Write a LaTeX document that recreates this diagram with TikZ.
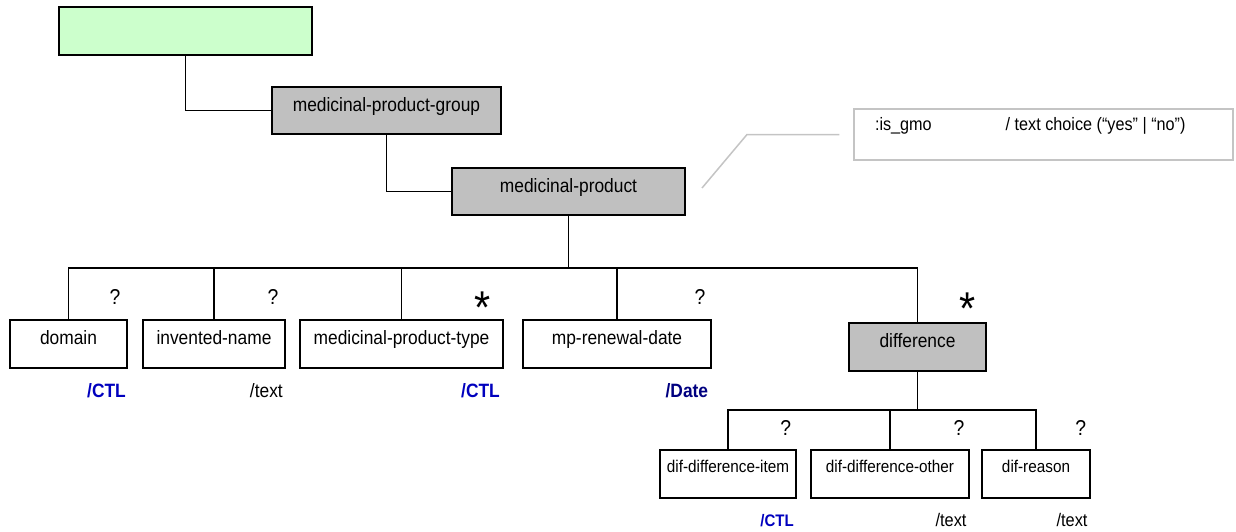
\documentclass[tikz,border=0pt]{standalone}
\usepackage{fontspec}
\setmainfont{Liberation Sans}[FakeStretch=0.9]
\definecolor{boxgray}{RGB}{192,192,192}
\definecolor{greenfill}{RGB}{204,255,204}
\definecolor{ctlblue}{RGB}{0,0,190}
\definecolor{datenavy}{RGB}{0,0,128}
\definecolor{notegray}{RGB}{196,196,196}
\begin{document}
\begin{tikzpicture}[x=1pt,y=-1pt,
  box/.style={draw=black, line width=1.9pt, inner sep=0pt, font=\fontsize{19.3}{22}\selectfont},
  greybox/.style={box, fill=boxgray},
  lvlone/.style={text height=24.3pt, text depth=23.7pt},
  lvltwo/.style={font=\fontsize{17}{20}\selectfont, text height=22.3pt, text depth=25.7pt},
  edge/.style={draw=black, line width=1.8pt},
  card/.style={font=\fontsize{21.5}{23}\selectfont, anchor=base, inner sep=0pt},
  many/.style={font=\fontsize{46}{46}\selectfont, anchor=center, inner sep=0pt, text height=33pt, text depth=-19pt},
  ctl/.style={font=\bfseries\fontsize{19.3}{22}\selectfont, text=ctlblue, anchor=base east, inner sep=0pt},
  typ/.style={font=\fontsize{19.3}{22}\selectfont, anchor=base east, inner sep=0pt},
  ctltwo/.style={font=\bfseries\fontsize{16.7}{19}\selectfont, text=ctlblue, anchor=base east, inner sep=0pt},
  typtwo/.style={font=\fontsize{18.2}{20}\selectfont, anchor=base east, inner sep=0pt},
  callout/.style={draw=notegray, line width=1.5pt}
]
\useasboundingbox (0,0) rectangle (1236,531);

% top level
\node[box, fill=greenfill, minimum width=253pt, minimum height=48pt] (root) at (185.5,31) {};
\node[greybox, minimum width=229pt, text height=24.5pt, text depth=22.5pt] (mpg) at (386.5,110.5) {medicinal-product-group};
\node[greybox, minimum width=233pt, text height=24.5pt, text depth=22.5pt] (mp) at (568.5,191.5) {medicinal-product};

% note
\node[draw=notegray, line width=1.5pt, inner xsep=21pt, inner ysep=0pt, text height=21pt, text depth=30pt,
      font=\fontsize{18}{20}\selectfont] (note) at (1043.5,134.5)
  {\makebox[337pt][l]{:is\_gmo\hspace{74pt}/ text choice (“yes” | “no”)}};
\coordinate (c1) at (702,188);
\coordinate (c2) at (747,134.5);
\draw[callout] (c1) -- (c2) -- ([xshift=-14pt]note.west);

% level 1 children
\node[box, lvlone, minimum width=117pt] (dom) at (68.5,344) {domain};
\node[box, lvlone, minimum width=142pt] (inv) at (214,344) {invented-name};
\node[box, lvlone, minimum width=203pt] (mpt) at (401.5,344) {medicinal-product-type};
\node[box, lvlone, minimum width=188pt] (mpr) at (617,344) {mp-renewal-date};
\node[greybox, text height=24pt, text depth=24pt, minimum width=137pt] (diff) at (917.5,347) {difference};

% level 2 children
\node[box, lvltwo, minimum width=136pt] (item) at (728,474) {dif-difference-item};
\node[box, lvltwo, minimum width=158pt] (other) at (890,474) {dif-difference-other};
\node[box, lvltwo, minimum width=108pt] (reason) at (1036,474) {dif-reason};

% connectors
\draw[edge] (root.south) |- (mpg.west);
\draw[edge] (mpg.south) |- (mp.west);
\coordinate (busone) at (mp.south |- 0,268);
\draw[edge] (mp.south) -- (busone);
\foreach \n in {dom,inv,mpt,mpr,diff} \draw[edge] (busone) -| (\n.north);
\coordinate (bustwo) at (diff.south |- 0,410);
\draw[edge] (diff.south) -- (bustwo);
\foreach \n in {item,other,reason} \draw[edge] (bustwo) -| (\n.north);

% cardinalities
\node[card] (q1) at (115,304) {?};
\node[card] (q2) at (273,304) {?};
\node[many] (s1) at (483,306.5) {*};
\node[card] (q3) at (700,304) {?};
\node[many] (s2) at (968,307.5) {*};
\node[card] (q4) at (785.7,435) {?};
\node[card] (q5) at (959,435) {?};
\node[card] (q6) at (1080.7,435) {?};

% type labels
\node[ctl] (t1) at (126,397) {/CTL};
\node[typ] (t2) at (283,397) {/text};
\node[ctl] (t3) at (500,397) {/CTL};
\node[ctl, text=datenavy] (t4) at (708.3,397) {/Date};
\node[ctltwo] (t5) at (794,526.7) {/CTL};
\node[typtwo] (t6) at (966.7,526.7) {/text};
\node[typtwo] (t7) at (1087.7,526.7) {/text};
\end{tikzpicture}
\end{document}
